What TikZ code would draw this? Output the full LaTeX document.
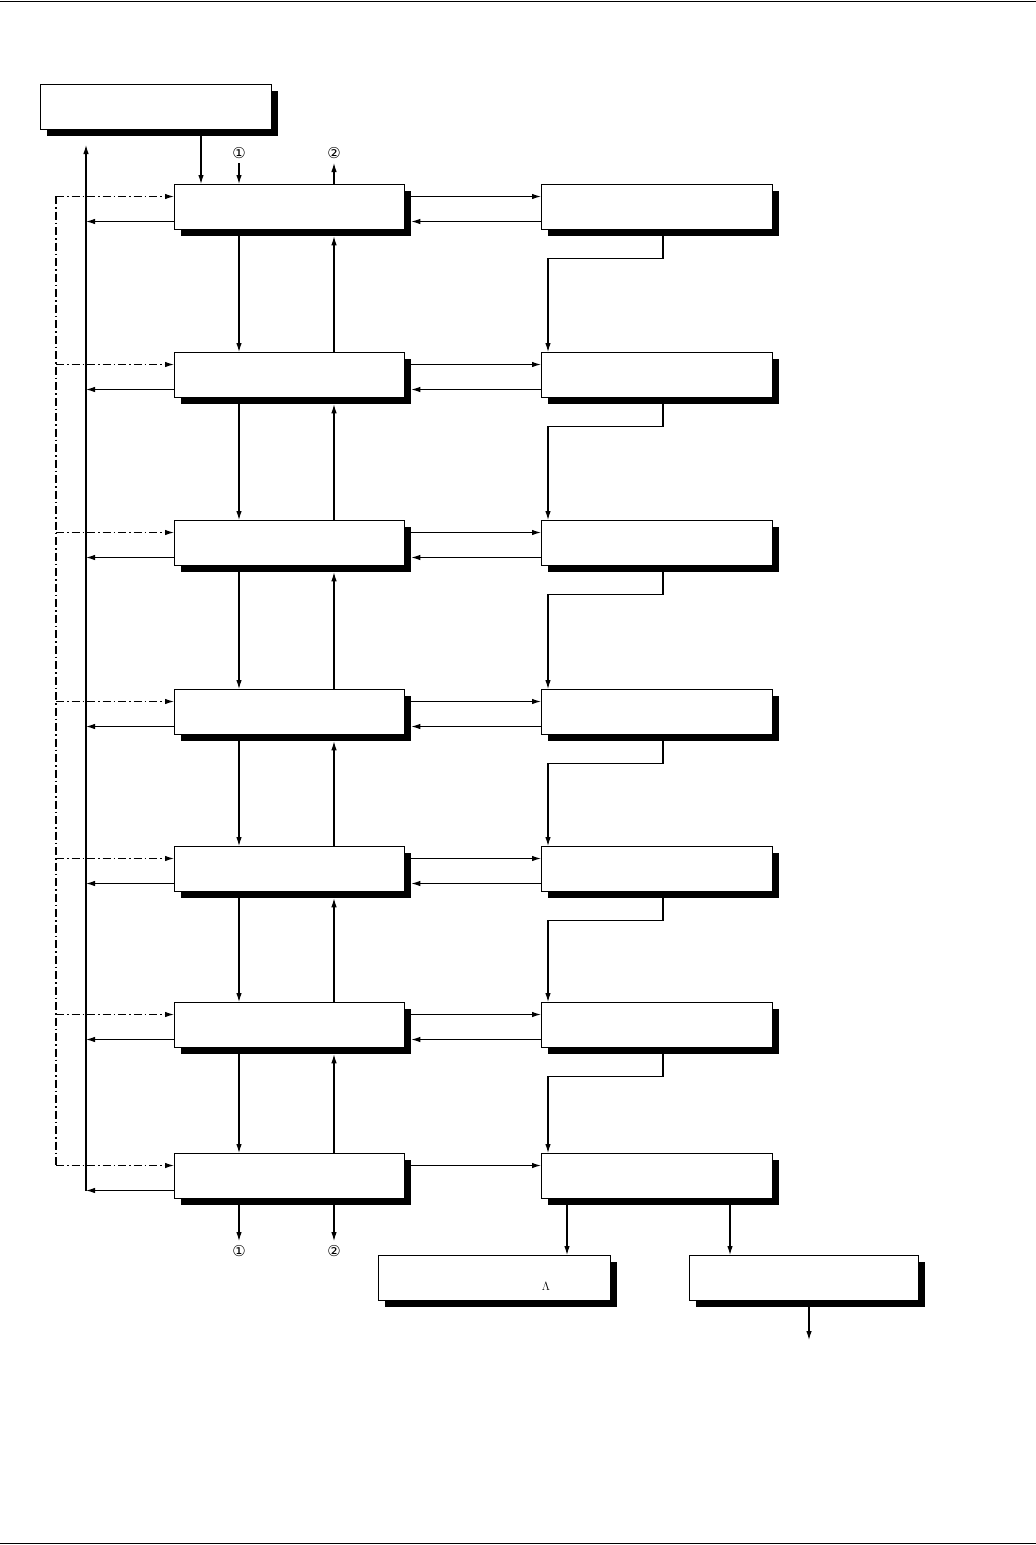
\documentclass[tikz,border=0pt]{standalone}
\usepackage{fontspec}
\newfontfamily\symfont{DejaVu Sans}
\usetikzlibrary{arrows.meta,shadows}
\begin{document}
\begin{tikzpicture}[x=1pt,y=-1pt,
  box/.style={draw,line width=1.3pt,fill=white,anchor=north west,inner sep=0pt,
    minimum height=45pt,
    drop shadow={shadow xshift=6pt,shadow yshift=-6pt,fill=black,opacity=1}},
  lbox/.style={box,minimum width=230pt},
  rbox/.style={box,minimum width=231pt},
  arr/.style={line width=1.1pt,-{Latex[length=9pt,width=5.5pt]}},
  dd/.style={line width=1.1pt,dash pattern=on 8pt off 3pt on 1.5pt off 3pt},
  num/.style={font=\symfont\fontsize{15}{16}\selectfont,inner sep=0pt}]
\useasboundingbox (0,0) rectangle (1036,1545);
\draw[line width=1.5pt] (0,1.5) -- (1036,1.5);
\draw[line width=1.5pt] (0,1543.5) -- (1036,1543.5);

\node[box,minimum width=231pt] (top) at (40,84) {};

\foreach \i/\y in {1/184,2/352,3/520,4/689,5/846,6/1002,7/1153}{
  \node[lbox] (L\i) at (174,\y) {};
  \node[rbox] (R\i) at (541,\y) {};
}
\node[box,minimum width=232pt] (B1) at (378,1255) {};
\node[box,minimum width=229pt] (B2) at (689,1255) {};
\node[font=\fontsize{13}{14}\selectfont,inner sep=0pt] (lam) at (546,1286) {$\Lambda$};

\coordinate (lv) at (86,145);
\coordinate (dl) at (56,196);

% left feedback line
\draw[arr] ([yshift=-37.5pt]L7.north west -| lv) -- (lv);
% dash-dot bus
\draw[dd] (dl) -- ([yshift=-12.5pt]L7.north west -| dl);

% top box to first
\draw[arr] ([xshift=161pt,yshift=-6pt]top.south west) -- ([xshift=27pt]L1.north west);

% circled numbers top
\node[num] (c1t) at (239,153) {①};
\node[num] (c2t) at (334,153) {②};
\draw[arr] ([yshift=-10pt]c1t.center) -- ([xshift=65pt]L1.north west);
\draw[arr] ([xshift=160pt]L1.north west) -- ([yshift=-10pt]c2t.center);

\foreach \i in {1,...,7}{
  \draw[dd,-{Latex[length=9pt,width=5.5pt]}] ([yshift=-12.5pt]L\i.north west -| dl) -- ([yshift=-12.5pt]L\i.north west);
  \draw[arr] ([yshift=-37.5pt]L\i.north west) -- ([yshift=-37.5pt]L\i.north west -| lv);
  \draw[arr] ([xshift=6pt,yshift=-12.5pt]L\i.north east) -- ([yshift=-12.5pt]R\i.north west);
}
\foreach \i in {1,...,6}{
  \draw[arr] ([yshift=-37.5pt]R\i.north west) -- ([xshift=6pt,yshift=-37.5pt]L\i.north east);
}
\foreach \i/\j in {1/2,2/3,3/4,4/5,5/6,6/7}{
  \draw[arr] ([xshift=65pt,yshift=-6pt]L\i.south west) -- ([xshift=65pt]L\j.north west);
  \draw[arr] ([xshift=160pt]L\j.north west) -- ([xshift=160pt,yshift=-6pt]L\i.south west);
  \draw[arr] ([xshift=122pt,yshift=-6pt]R\i.south west) -- ([xshift=122pt,yshift=-28pt]R\i.south west)
     -| ([xshift=7pt]R\j.north west);
}

% bottom circled numbers
\node[num] (c1b) at (239,1251) {①};
\node[num] (c2b) at (334,1251) {②};
\draw[arr] ([xshift=65pt,yshift=-6pt]L7.south west) -- ([yshift=10pt]c1b.center);
\draw[arr] ([xshift=160pt,yshift=-6pt]L7.south west) -- ([yshift=10pt]c2b.center);

% outputs
\draw[arr] ([xshift=26pt,yshift=-6pt]R7.south west) -- ([xshift=189pt]B1.north west);
\draw[arr] ([xshift=189pt,yshift=-6pt]R7.south west) -- ([xshift=41pt]B2.north west);
\coordinate (out) at (809,1340);
\draw[arr] ([xshift=120pt,yshift=-6pt]B2.south west) -- (out);
\end{tikzpicture}
\end{document}
